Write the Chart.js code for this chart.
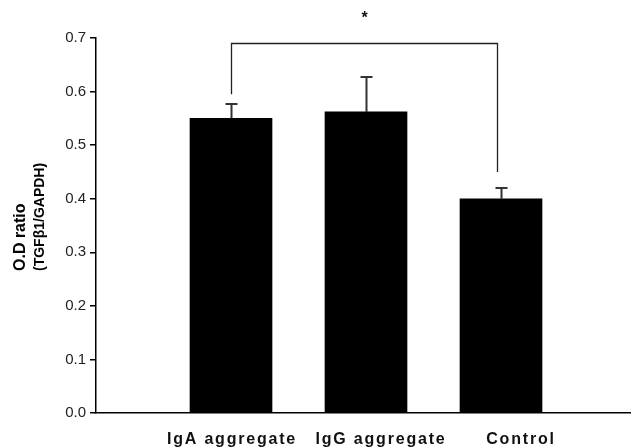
<!DOCTYPE html>
<html>
<head>
<meta charset="utf-8">
<script src="https://cdn.jsdelivr.net/npm/chart.js@4.4.1/dist/chart.umd.min.js"></script>
<style>
  html, body { margin: 0; padding: 0; background: #fff; overflow: hidden; }
  #wrap { width: 652px; height: 447px; }
</style>
</head>
<body>
<div id="wrap"><canvas id="chart" width="652" height="447"></canvas></div>
<script>
// data
const groups = ["", "IgA aggregate", "IgG aggregate", "Control", ""];
const means = [null, 0.55, 0.562, 0.40, null];
const errUp = [null, 0.577, 0.627, 0.42, null];
const yTicks = [0, 0.1, 0.2, 0.3, 0.4, 0.5, 0.6, 0.7];
const yTitle = ["O.D ratio", "(TGFβ1/GAPDH)"];

// significance bracket: IgA vs Control
const bracketTop = 0.69;
const bracketLegs = [0.595, 0.45];

// labels in the original sit a little right of their bars
const labelShift = [0, 1, 15, 20, 0];

const font = "'Liberation Sans', Arial, sans-serif";

// error bars, bracket, x labels, y title
const extras = {
  id: "extras",
  afterDraw(chart) {
    const ctx = chart.ctx;
    const x = chart.scales.x, y = chart.scales.y;
    ctx.save();
    ctx.strokeStyle = "#333";
    ctx.lineWidth = 2;
    means.forEach((m, i) => {
      if (m == null) return;
      const cx = Math.round(x.getPixelForValue(i)) + 0.5;
      const y0 = y.getPixelForValue(m);
      const y1 = Math.round(y.getPixelForValue(errUp[i]));
      ctx.beginPath();
      ctx.moveTo(cx, y0);
      ctx.lineTo(cx, y1);
      ctx.moveTo(cx - 6, y1);
      ctx.lineTo(cx + 6, y1);
      ctx.stroke();
    });

    const xl = Math.round(x.getPixelForValue(1)) + 0.5;
    const xr = Math.round(x.getPixelForValue(3)) - 3.5;
    const yt = Math.round(y.getPixelForValue(bracketTop)) + 0.5;
    ctx.strokeStyle = "#222";
    ctx.lineWidth = 1.3;
    ctx.beginPath();
    ctx.moveTo(xl, y.getPixelForValue(bracketLegs[0]));
    ctx.lineTo(xl, yt);
    ctx.lineTo(xr, yt);
    ctx.lineTo(xr, y.getPixelForValue(bracketLegs[1]));
    ctx.stroke();

    ctx.fillStyle = "#111";
    ctx.font = "bold 16px " + font;
    ctx.textAlign = "center";
    ctx.textBaseline = "middle";
    ctx.fillText("*", (xl + xr) / 2, 19);

    // category labels, spaced out like the original
    ctx.fillStyle = "#111";
    ctx.font = "bold 16px " + font;
    ctx.letterSpacing = "1.8px";
    ctx.textBaseline = "alphabetic";
    groups.forEach((g, i) => {
      if (!g) return;
      ctx.fillText(g, x.getPixelForValue(i) + labelShift[i], 444);
    });
    ctx.letterSpacing = "0px";

    // two-line y title, start aligned
    ctx.translate(0, 271);
    ctx.rotate(-Math.PI / 2);
    ctx.textAlign = "left";
    ctx.textBaseline = "middle";
    ctx.fillStyle = "#000";
    ctx.font = "bold 16px " + font;
    ctx.fillText(yTitle[0], 0, 21);
    ctx.font = "bold 14px " + font;
    ctx.fillText(yTitle[1], 0, 40);
    ctx.restore();
  }
};

new Chart(document.getElementById("chart"), {
  type: "bar",
  data: {
    labels: groups,
    datasets: [{
      data: means,
      backgroundColor: "#000",
      borderWidth: 0,
      barThickness: 82,
    }],
  },
  options: {
    responsive: false,
    animation: false,
    events: [],
    layout: { padding: { top: 38, right: 16, left: 0, bottom: 0 } },
    plugins: { legend: { display: false }, tooltip: { enabled: false } },
    scales: {
      x: {
        offset: false,
        grid: { display: false },
        border: { color: "#000", width: 1.5 },
        ticks: { display: false },
        afterFit(scale) { scale.height = 34; },
      },
      y: {
        min: 0,
        max: 0.7,
        afterBuildTicks(scale) { scale.ticks = yTicks.map(v => ({ value: v })); },
        grid: { drawOnChartArea: false, drawTicks: true, tickLength: 6, color: "#000", lineWidth: 1.5 },
        border: { color: "#000", width: 1.5 },
        ticks: {
          padding: 4,
          color: "#222",
          font: { family: font, size: 15 },
          callback: v => v.toFixed(1),
        },
        afterFit(scale) { scale.width = 96; },
      },
    },
  },
  plugins: [extras],
});
</script>
</body>
</html>
